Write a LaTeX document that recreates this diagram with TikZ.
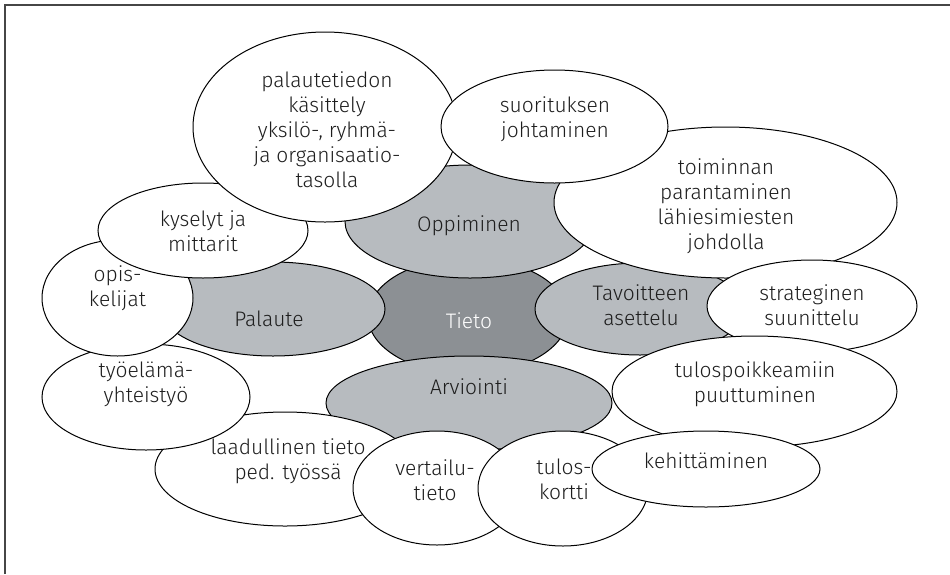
\documentclass[tikz,border=0pt]{standalone}
\usepackage{fontspec}
\setmainfont{Fira Sans}[UprightFont={* Light}]
\usetikzlibrary{shapes.geometric}
\definecolor{lightgrey}{RGB}{183,187,191}
\definecolor{darkgrey}{RGB}{140,144,148}
\definecolor{inkgrey}{RGB}{30,30,30}
\definecolor{framegrey}{RGB}{70,70,70}
\tikzset{
  bubble/.style={ellipse, draw=black, line width=1pt, fill=white, inner sep=0pt},
  greybubble/.style={bubble, fill=lightgrey},
  corebubble/.style={bubble, fill=darkgrey},
  lbl/.style={align=center, inner sep=0pt, text=inkgrey,
    font=\fontsize{21}{25}\selectfont},
  corelbl/.style={lbl, text=white},
}
\newcommand{\bub}[6]{% style, name, cx, cy, rx, ry
  \node[#1, minimum width=#5*2pt, minimum height=#6*2pt] (#2) at (#3,#4) {};}
\begin{document}
\begin{tikzpicture}[x=1pt, y=-1pt]
\useasboundingbox (0,0) rectangle (950,574);
% frame edges
\coordinate (ftl) at (5,5);
\coordinate (ftr) at (950,5);
\coordinate (fbl) at (5,574);
\draw[framegrey, line width=1.5pt] (fbl) -- (ftl) -- (ftr);

% centre
\bub{corebubble}{tieto}{468}{316}{100}{58}
\node[corelbl] (tietot) at (469,321) {Tieto};

% four main themes
\bub{greybubble}{oppi}{470}{221.5}{125}{56.5}
\node[lbl] (oppit) at (469,226) {Oppiminen};
\bub{greybubble}{pala}{273}{309}{112}{47}
\node[lbl] (palat) at (269,319) {Palaute};
\bub{greybubble}{tavo}{640}{309}{105}{46}
\node[lbl] (tavot) at (641,305) {Tavoitteen\\asettelu};
\bub{greybubble}{arvi}{469}{403}{143}{47}
\node[lbl] (arvit) at (469,387) {Arviointi};

% surrounding topics
\bub{bubble}{laad}{285}{469}{130}{57}
\node[lbl] (laadt) at (288,461.5) {laadullinen tieto\\ped. työssä};
\bub{bubble}{tyoe}{146}{397}{104}{53}
\node[lbl] (tyoet) at (146,384.5) {työelämä-\\yhteistyö};
\bub{bubble}{opis}{117.5}{298}{75.5}{58}
\node[lbl] (opist) at (117.5,288.5) {opis-\\kelijat};
\bub{bubble}{kyse}{203}{230.5}{105}{47.5}
\node[lbl] (kyset) at (203,231) {kyselyt ja\\mittarit};
\bub{bubble}{palt}{325}{127}{132}{95}
\node[lbl] (paltt) at (327,130) {palautetiedon\\käsittely\\yksilö-, ryhmä-\\ja organisaatio-\\tasolla};
\bub{bubble}{toim}{725.5}{202.5}{171.5}{75.5}
\node[lbl] (toimt) at (726,206) {toiminnan\\parantaminen\\lähiesimiesten\\johdolla};
\bub{bubble}{suor}{554.5}{126.5}{113.5}{56.5}
\node[lbl] (suort) at (555,119) {suorituksen\\johtaminen};
\bub{bubble}{stra}{812}{306}{105}{46}
\node[lbl] (strat) at (812,305) {strateginen\\suunittelu};
\bub{bubble}{tulp}{754.5}{391.5}{142.5}{55.5}
\node[lbl] (tulpt) at (755,384.5) {tulospoikkeamiin\\puuttuminen};
\bub{bubble}{vert}{437}{488}{84}{57}
\node[lbl] (vertt) at (435,480) {vertailu-\\tieto};
\bub{bubble}{tulk}{563}{488.5}{85}{57.5}
\node[lbl] (tulkt) at (564,479) {tulos-\\kortti};
\bub{bubble}{kehi}{706}{469}{114}{38}
\node[lbl] (kehit) at (706,461) {kehittäminen};
\end{tikzpicture}
\end{document}
